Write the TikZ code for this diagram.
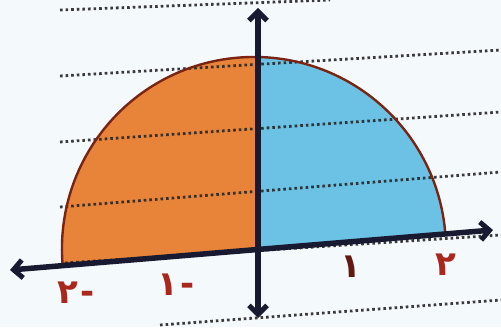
\documentclass[tikz,border=0pt]{standalone}
\usepackage{fontspec}
\usetikzlibrary{arrows.meta, calc}
\newfontfamily\arabicfont[Script=Arabic]{DejaVu Sans}
\definecolor{paper}{HTML}{F4F9FB}
\definecolor{crayonorange}{HTML}{E8843A}
\definecolor{crayonblue}{HTML}{6CC2E4}
\definecolor{rimred}{HTML}{7A2414}
\definecolor{inkblue}{HTML}{171A30}
\definecolor{labelred}{HTML}{A8281E}
\newcommand{\minusof}[1]{#1\kern3pt\hbox{-}}

\begin{document}
\begin{tikzpicture}[
    x=1pt, y=1pt,
    >={Straight Barb[length=9pt, width=18pt, line width=5pt]},
    axis/.style ={<->, line width=5.5pt, draw=inkblue, line cap=round},
    rule/.style ={line width=2.8pt, dash pattern=on 2.6pt off 3pt, draw=black!85, opacity=0.9},
    rim/.style  ={line width=2.4pt, draw=rimred},
    tick/.style ={font=\arabicfont\bfseries\fontsize{34}{34}\selectfont, text=labelred,
                  inner sep=0pt},
]
% paper
\fill[paper] (0,0) rectangle (501,327);
\useasboundingbox (0,0) rectangle (501,327);
% origin and axis ends
\coordinate (O)  at (254,78);
\coordinate (xl) at (10,57);
\coordinate (xr) at (493,97);
\coordinate (yt) at (258,319);
\coordinate (yb) at (258,9);
\coordinate (foot) at (258,78);
% the two quarters
\fill[crayonorange] (foot) -- (258,270) arc[start angle=88.8, end angle=184.7, radius=192] -- cycle;
\fill[crayonblue]   (foot) -- (258,270) arc[start angle=88.8, end angle=4.7, radius=192] -- cycle;
% ruled lines of the page
\draw[rule] (60,317) -- (330,327);
\draw[rule] (60,251) -- (501,277);
\draw[rule] (60,185) -- (501,215);
\draw[rule] (60,120) -- (501,155);
\draw[rule] (65,64)  -- (501,92);
\draw[rule] (160,2)  -- (501,27);
% rim of the half disc
\draw[rim] (62.6,62.3) arc[start angle=184.7, end angle=4.7, radius=192];
% axes
\draw[axis] (xl) -- (xr);
\draw[axis] (yb) -- (yt);
% labels
\node[tick] (m2) at (76,34)  {\minusof{٢}};
\node[tick] (m1) at (176,42) {\minusof{١}};
\node[tick, text=labelred!60!black] (p1) at (351,60) {١};
\node[tick] (p2) at (446,62) {٢};
\end{tikzpicture}
\end{document}
